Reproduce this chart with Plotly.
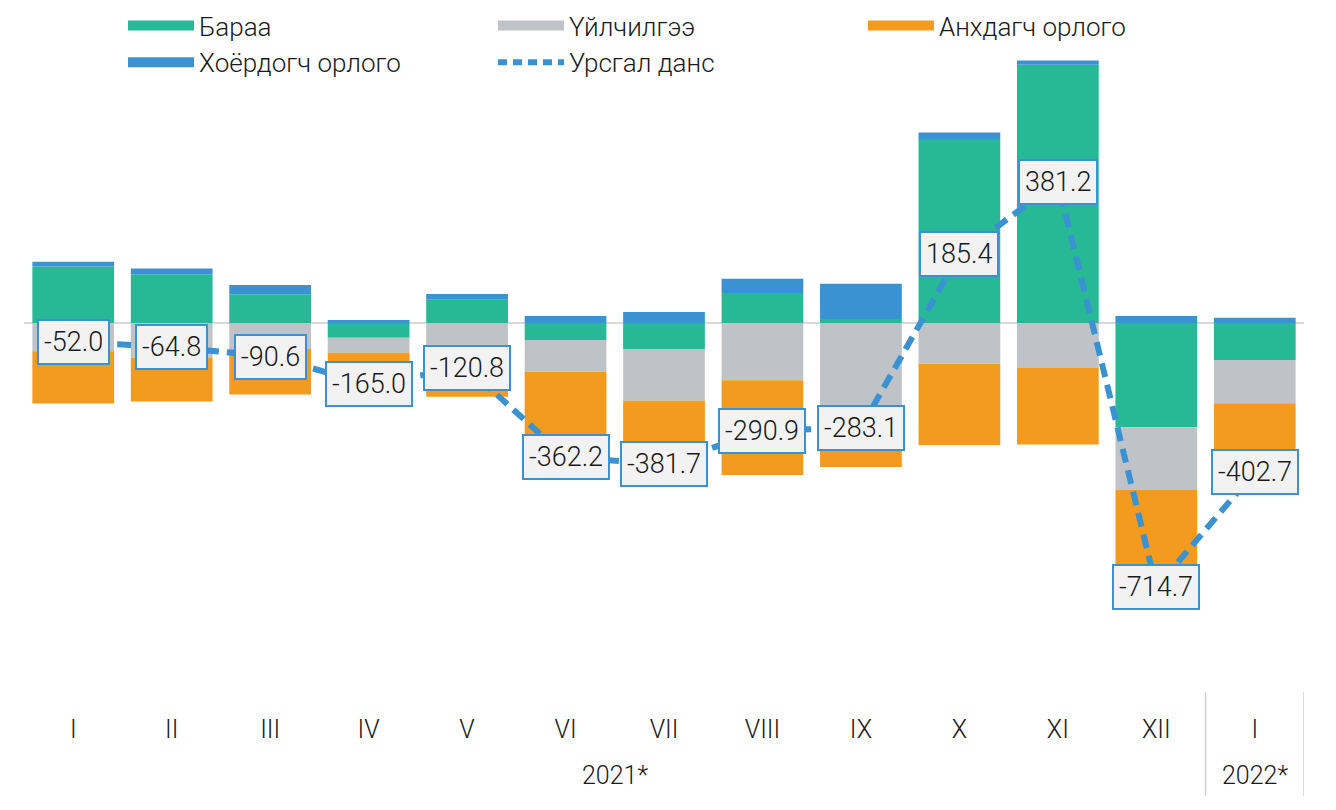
import plotly.graph_objects as go

months = ["I", "II", "III", "IV", "V", "VI", "VII", "VIII", "IX", "X", "XI", "XII", "I"]
years = ["2021*", "2022*"]
goods = [153.0, 132.0, 77.6, -40.0, 63.0, -46.0, -70.0, 81.0, 10.8, 497.0, 698.0, -282.0, -100.0]
services = [-76.0, -93.0, -70.0, -40.5, -80.0, -85.5, -140.0, -155.0, -228.0, -110.0, -121.6, -168.0, -117.0]
primary = [-141.5, -119.2, -123.2, -92.5, -119.2, -249.7, -201.4, -255.6, -161.3, -219.6, -206.9, -283.7, -200.2]
secondary = [12.5, 15.4, 25.0, 8.0, 15.4, 19.0, 29.7, 38.7, 95.4, 18.0, 11.7, 19.0, 14.5]
current = [-52.0, -64.8, -90.6, -165.0, -120.8, -362.2, -381.7, -290.9, -283.1, 185.4, 381.2, -714.7, -402.7]

names = ["Бараа", "Үйлчилгээ", "Анхдагч орлого", "Хоёрдогч орлого", "Урсгал данс"]
C_GREEN = "#27B896"
C_GREY = "#BFC3C7"
C_ORANGE = "#F29B1F"
C_BLUE = "#3A92D3"

FONT = "Roboto Light, Roboto"
x = list(range(len(months)))

fig = go.Figure()
for vals, col in [(goods, C_GREEN), (services, C_GREY), (primary, C_ORANGE), (secondary, C_BLUE)]:
    fig.add_trace(go.Bar(x=x, y=vals, marker=dict(color=col, line=dict(width=0)),
                         showlegend=False, hoverinfo="skip"))

fig.add_trace(go.Scatter(x=x, y=current, mode="lines",
                         line=dict(color=C_BLUE, width=6, dash="14px,8px"),
                         showlegend=False, hoverinfo="skip"))

# legend entries
for nm, col in zip(names[:4], [C_GREEN, C_GREY, C_ORANGE, C_BLUE]):
    fig.add_trace(go.Scatter(x=[None], y=[None], mode="lines", name=nm,
                             line=dict(color=col, width=14)))
fig.add_trace(go.Scatter(x=[None], y=[None], mode="lines", name=names[4],
                         line=dict(color=C_BLUE, width=6, dash="9px,6px")))

for xi, v in zip(x, current):
    fig.add_annotation(x=xi, y=v, text=f"{v:.1f}", showarrow=False,
                       font=dict(family=FONT, size=27, color="#1a1a1a"),
                       bgcolor="#F2F2F2", bordercolor=C_BLUE, borderwidth=2, borderpad=5,
                       xanchor="center", yanchor="middle")

# year labels
fig.add_annotation(x=5.5, y=-0.131, xref="x", yref="paper", text=years[0], showarrow=False,
                   font=dict(family=FONT, size=25, color="#1a1a1a"), yanchor="middle")
fig.add_annotation(x=12, y=-0.131, xref="x", yref="paper", text=years[1], showarrow=False,
                   font=dict(family=FONT, size=25, color="#1a1a1a"), yanchor="middle")

for xv in [11.5, 12.5]:
    fig.add_shape(type="line", x0=xv, x1=xv, xref="x", yref="paper", y0=-0.003, y1=-0.163,
                  line=dict(color="#D0D0D0", width=1.5))

fig.update_layout(
    width=1336, height=810,
    margin=dict(l=24, r=32, t=40, b=120, autoexpand=False),
    paper_bgcolor="white", plot_bgcolor="white",
    barmode="relative", bargap=0.17,
    font=dict(family=FONT, size=24, color="#1a1a1a"),
    legend=dict(orientation="h", x=123 / 1336, y=1 - 2 / 810, xref="container", yref="container",
                xanchor="left", yanchor="top",
                entrywidth=289, entrywidthmode="pixels", itemwidth=66,
                font=dict(family=FONT, size=26, color="#1a1a1a"),
                bgcolor="rgba(0,0,0,0)", tracegroupgap=0),
    xaxis=dict(range=[-0.5, 12.5], tickmode="array", tickvals=x, ticktext=months,
               showgrid=False, zeroline=False, showline=False, ticks="",
               ticklabelstandoff=22,
               tickfont=dict(family=FONT, size=25, color="#1a1a1a")),
    yaxis=dict(range=[-991.9, 764.9], showgrid=False, zeroline=True,
               zerolinecolor="#D9D9D9", zerolinewidth=2, showticklabels=False, ticks=""),
)

fig.write_html("out.html")
